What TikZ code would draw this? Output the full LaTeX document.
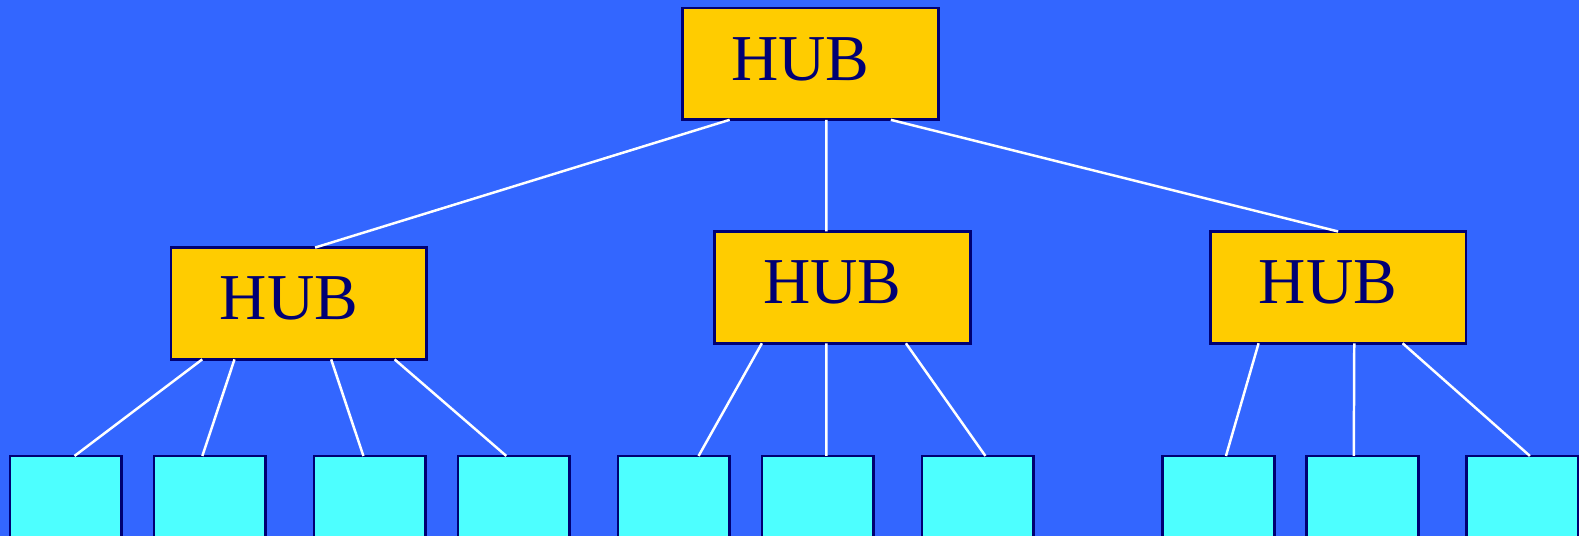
\documentclass[tikz,border=0pt]{standalone}
\usepackage{fontspec}
\setmainfont{Liberation Serif}
\usetikzlibrary{positioning}

\definecolor{bgblue}{RGB}{51,102,255}
\definecolor{hubyellow}{RGB}{255,204,0}
\definecolor{leafcyan}{RGB}{77,255,255}
\definecolor{navy}{RGB}{0,0,115}

\tikzset{
  hub/.style={draw=navy, fill=hubyellow, line width=0.8pt, minimum width=2.54cm,
    minimum height=1.11cm, inner sep=0pt, outer sep=0pt, text=navy,
    text depth=0.1cm, font=\fontsize{18.5}{20}\selectfont},
  leaf/.style={draw=navy, fill=leafcyan, line width=0.8pt, minimum width=1.11cm,
    minimum height=1.0cm, inner sep=0pt, outer sep=0pt, anchor=north west},
  link/.style={draw=white, line width=0.7pt}
}

\begin{document}
\begin{tikzpicture}[x=0.01cm, y=-0.01cm]
\useasboundingbox (0,0) rectangle (1568.8,532.5);
\clip (0,0) rectangle (1568.8,532.5);
\fill[bgblue] (0,0) rectangle (1568.8,532.5);

% hubs
\node[hub] (h0) at (805,63.5) {HUB\makebox[0.2cm]{}};
\node[hub] (hL) at (297,301.5) {HUB\makebox[0.2cm]{}};
\node[hub] (hC) at (837,285.5) {HUB\makebox[0.2cm]{}};
\node[hub] (hR) at (1329.5,285.5) {HUB\makebox[0.2cm]{}};

% leaves
\foreach \x [count=\i] in {10,153,312,455,614,757,916,1155,1298,1457}
  \node[leaf] (l\i) at (\x,453) {};

\path[link]
    ([xshift=0.47cm]h0.south west) edge ([xshift=1.43cm]hL.north west)
    ([xshift=1.43cm]h0.south west) edge ([xshift=1.11cm]hC.north west)
    ([xshift=2.07cm]h0.south west) edge (hR.north)

    ([xshift=0.31cm]hL.south west) edge ([xshift=0.64cm]l1.north west)
    ([xshift=0.63cm]hL.south west) edge ([xshift=0.48cm]l2.north west)
    ([xshift=1.59cm]hL.south west) edge ([xshift=0.49cm]l3.north west)
    ([xshift=2.22cm]hL.south west) edge ([xshift=0.48cm]l4.north west)

    ([xshift=0.47cm]hC.south west) edge ([xshift=0.80cm]l5.north west)
    ([xshift=1.11cm]hC.south west) edge ([xshift=0.64cm]l6.north west)
    ([xshift=1.90cm]hC.south west) edge ([xshift=0.63cm]l7.north west)

    ([xshift=0.48cm]hR.south west) edge ([xshift=0.63cm]l8.north west)
    ([xshift=1.43cm]hR.south west) edge ([xshift=0.47cm]l9.north west)
    ([xshift=1.91cm]hR.south west) edge ([xshift=0.63cm]l10.north west);
\end{tikzpicture}
\end{document}
